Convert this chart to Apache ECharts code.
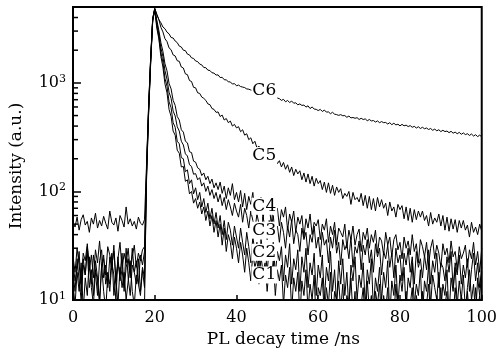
<!DOCTYPE html>
<html><head><meta charset="utf-8">
<script src="https://cdn.jsdelivr.net/npm/echarts@6/dist/echarts.min.js"></script>
<style>html,body{margin:0;padding:0;background:#fff}#c{width:500px;height:353px}</style>
</head><body><div id="c"></div>
<script>
// time grid, 0.5 ns sampling (0 .. 100 ns)
const times = [];
for (let i = 0; i <= 200; i++) times.push(i * 0.5);

const xTicks = [0, 20, 40, 60, 80, 100];
const yMinorTicks = [20,30,40,50,60,70,80,90,200,300,400,500,600,700,800,900,2000,3000,4000];

// curves start at t = 0 (C1..C5) ; C6 starts at t = 17.5
const c1 = [14,9,18,12,22,8,16,11,25,13,9,19,15,10,21,12,8,17,14,27,11,16,9,20,13,18,10,15,23,12,9,17,14,11,19,13,
130,520,1500,3700,4700,
3200,2550,1750,1400,980,810,570,490,360,330,
240,225,168,170,124,128,95,100,78,86,
70,80,62,72,54,66,48,60,42,54,
38,50,32,46,28,40,34,24,38,30,
22,34,26,18,30,22,15,27,20,24,
14,25,18,22,12,20,16,23,11,19,
15,21,9,17,13,20,8,16,12,18,
7,15,11,19,8,14,10,17,6,13,
11,16,7,13,9,18,6,12,10,15,
8,14,6,11,9,16,7,12,5,10,
9,13,6,15,8,11,5,12,9,14,
6,11,8,13,5,10,7,14,8,6,
10,7,12,5,9,13,6,11,8,5,
12,6,9,14,7,10,5,11,8,13,
6,9,12,5,10,7,13,8,6,11,
9,5,12,7,10,6,13,8,11,7];

const c2 = [18,12,24,15,10,21,17,28,13,19,11,23,16,9,20,26,14,18,12,22,17,10,25,15,19,13,30,16,11,21,18,14,24,12,20,16,
140,540,1550,3750,4750,
3400,2650,1900,1550,1100,930,670,590,430,390,
290,275,205,200,152,158,118,128,95,108,
84,98,72,86,64,78,56,70,50,64,
46,60,40,54,36,52,44,32,48,38,
30,46,34,26,42,31,22,38,28,34,
20,36,27,32,18,30,24,34,17,28,
23,31,15,26,20,33,14,24,19,29,
12,25,18,30,13,22,17,27,11,21,
16,26,10,20,15,28,12,19,9,23,
14,24,11,18,8,21,15,25,10,17,
13,22,9,19,14,24,8,16,12,20,
10,18,13,23,7,15,11,21,9,17,
12,20,8,16,13,22,9,14,11,19,
7,15,12,21,9,17,13,10,18,8,
14,11,19,7,16,12,20,9,15,10,
17,8,13,19,10,14,7,16,11,18];

const c3 = [22,15,19,28,12,24,17,31,20,14,26,18,11,23,29,16,21,13,25,19,32,15,22,17,27,12,20,24,16,30,18,23,14,26,21,28,
150,560,1600,3800,4800,
3600,2850,2100,1750,1300,1080,820,720,550,495,
395,360,290,268,222,212,176,170,144,146,
128,134,112,120,100,112,92,104,86,98,
80,94,74,88,68,84,72,60,78,66,
58,76,52,70,60,46,66,54,44,62,
50,40,58,46,36,54,44,60,38,48,
34,52,42,30,48,38,55,33,44,40,
28,46,36,42,26,40,34,48,30,38,
25,42,32,36,22,38,30,44,27,34,
21,36,29,33,24,38,20,31,27,35,
19,32,26,36,22,29,18,33,25,30,
17,28,24,32,20,27,16,30,22,26,
15,27,21,30,18,25,14,28,20,24,
16,26,19,29,14,23,18,27,13,22,
20,15,25,18,28,13,22,17,26,14,
21,16,24,12,19,27,15,22,13,20];

const c4 = [25,18,30,21,14,27,23,33,19,26,16,29,22,35,20,24,17,31,26,21,28,15,24,34,19,27,22,30,18,25,32,20,27,23,29,31,
160,580,1650,3850,4800,
3800,3050,2350,1950,1500,1290,990,880,690,620,
490,455,370,352,290,280,232,228,190,186,
165,160,140,148,128,138,118,130,108,120,
104,122,96,112,86,108,92,118,84,98,
80,102,72,96,68,90,76,98,62,84,
70,88,55,80,66,76,50,74,62,70,
48,68,58,72,44,62,52,66,42,58,
50,60,38,56,46,62,40,52,48,55,
36,50,44,56,34,48,40,52,32,46,
42,38,50,30,44,36,48,32,40,45,
28,42,36,46,30,40,34,44,27,38,
35,26,42,32,38,25,36,40,29,34,
24,38,30,35,26,40,28,33,22,36,
31,25,34,21,30,36,24,32,27,20,
33,26,30,22,35,25,28,19,31,24,
27,32,20,29,24,34,21,28,18,30];

const c5 = [52,47,58,44,55,61,49,53,42,57,50,63,46,54,48,59,51,45,66,52,49,57,43,60,54,47,72,50,56,48,53,45,58,51,49,55,
180,620,1700,3900,4850,
4250,3850,3250,2950,2550,2400,2100,2020,1810,1770,
1600,1580,1400,1370,1210,1190,1050,1030,910,900,
810,800,740,720,690,640,630,580,570,535,
540,490,505,455,470,430,445,400,415,385,
395,355,370,330,340,300,312,275,290,252,
262,235,250,222,236,205,222,192,205,180,
192,168,185,160,176,150,168,140,160,145,
155,128,148,122,145,118,138,112,132,118,
126,104,122,98,120,96,114,92,110,98,
106,86,96,90,100,76,98,84,88,80,
96,74,92,70,90,68,86,66,88,72,
84,70,78,60,80,66,72,58,76,68,
74,56,72,54,70,52,68,55,66,58,
66,54,60,48,64,50,57,52,62,48,
60,44,58,43,56,45,55,42,54,46,
54,44,49,38,52,42,47,40,50,43];

const c6Start = 17.5;
const c6 = [9,170,600,1700,3900,4850,
4300,3820,3580,3270,3150,2930,2830,2620,2590,2430,
2350,2180,2140,2000,1980,1840,1810,1700,1680,1590,
1570,1490,1465,1385,1380,1310,1300,1240,1230,1180,
1185,1120,1125,1070,1065,1025,1020,975,985,940,
955,925,915,905,880,875,860,850,830,835,
810,800,780,790,760,765,740,745,720,725,
715,690,705,670,688,660,680,650,655,628,
640,620,625,598,615,580,600,575,570,556,
570,545,562,538,540,520,536,515,510,502,
510,498,500,482,495,476,480,472,478,460,
472,460,466,448,460,446,450,436,446,430,
440,430,432,418,430,412,425,410,416,402,
415,402,408,396,404,390,398,384,394,380,
390,378,384,372,380,366,375,362,370,356,
366,356,360,348,358,344,352,340,350,336,
346,334,340,328,338,324,333,320,330,318];

const labelNames = ['C1','C2','C3','C4','C5','C6'];
const labelT = [46.8,46.8,46.8,46.8,46.8,46.8];
const labelV = [17,27.5,44,73,214,845];

const FONT = 'DejaVu Serif';
function pairs(vals, t0) {
  const i0 = Math.round(t0 / 0.5);
  return vals.map((v, i) => [times[i0 + i], v]);
}
function curve(name, vals, t0) {
  return {
    name, type: 'line', data: pairs(vals, t0), showSymbol: false, symbol: 'none',
    lineStyle: { color: '#000', width: 1 }, clip: true, z: 2, silent: true
  };
}

const chart = echarts.init(document.getElementById('c'), null, { renderer: 'canvas' });
chart.setOption({
  animation: false,
  backgroundColor: '#fff',
  grid: { left: 73, right: 15, top: 7, bottom: 53, show: true, borderColor: '#000', borderWidth: 2, backgroundColor: 'transparent' },
  xAxis: {
    type: 'value', min: 0, max: 100, interval: 20,
    axisLine: { lineStyle: { color: '#000', width: 2 } },
    axisTick: { inside: true, length: 5, lineStyle: { color: '#000', width: 1.5 } },
    splitLine: { show: false },
    axisLabel: { color: '#000', fontFamily: FONT, fontSize: 16, margin: 10,
      formatter: v => xTicks.indexOf(v) >= 0 ? String(v) : '' },
    name: 'PL decay time /ns', nameLocation: 'middle', nameGap: 29,
    nameTextStyle: { color: '#000', fontFamily: FONT, fontSize: 17, padding: [0, 0, 0, 12] }
  },
  yAxis: {
    type: 'log', logBase: 10, min: 10, max: 5000,
    axisLine: { lineStyle: { color: '#000', width: 2 } },
    axisTick: { inside: true, length: 8, lineStyle: { color: '#000', width: 1.5 } },
    minorTick: { show: false },
    splitLine: { show: false },
    axisLabel: {
      color: '#000', fontFamily: FONT, fontSize: 16, margin: 7, showMaxLabel: false,
      formatter: v => {
        const e = Math.log10(v), r = Math.round(e);
        if (Math.abs(e - r) > 1e-6) return '';
        return '10{sup|' + r + '}';
      },
      rich: { sup: { fontFamily: FONT, fontSize: 11, color: '#000', padding: [0, 0, 8, 0] } }
    }
  },
  graphic: [{
    type: 'text', x: 17, y: 166, rotation: Math.PI / 2,
    style: { text: 'Intensity (a.u.)', fill: '#000', font: '17px "DejaVu Serif"', align: 'center', verticalAlign: 'middle' }
  }],
  series: [
    curve('C1', c1, 0), curve('C2', c2, 0), curve('C3', c3, 0),
    curve('C4', c4, 0), curve('C5', c5, 0), curve('C6', c6, c6Start),
    {
      type: 'custom', silent: true, z: 5, clip: false,
      data: yMinorTicks.map(v => [0, v]),
      renderItem: (params, api) => {
        const p = api.coord([api.value(0), api.value(1)]);
        return { type: 'line', shape: { x1: p[0], y1: p[1], x2: p[0] + 5, y2: p[1] },
          style: { stroke: '#000', lineWidth: 1.5 } };
      }
    },
    {
      type: 'scatter', silent: true, z: 10, symbolSize: 0,
      itemStyle: { opacity: 1, color: '#000' },
      data: labelNames.map((n, i) => ({ name: n, value: [labelT[i], labelV[i]] })),
      label: { show: true, position: 'inside', formatter: p => p.name, color: '#000', opacity: 1,
        textBorderWidth: 0, fontFamily: FONT, fontSize: 17, backgroundColor: '#fff', padding: [0, 1, 0, 1] }
    }
  ]
});
</script></body></html>
